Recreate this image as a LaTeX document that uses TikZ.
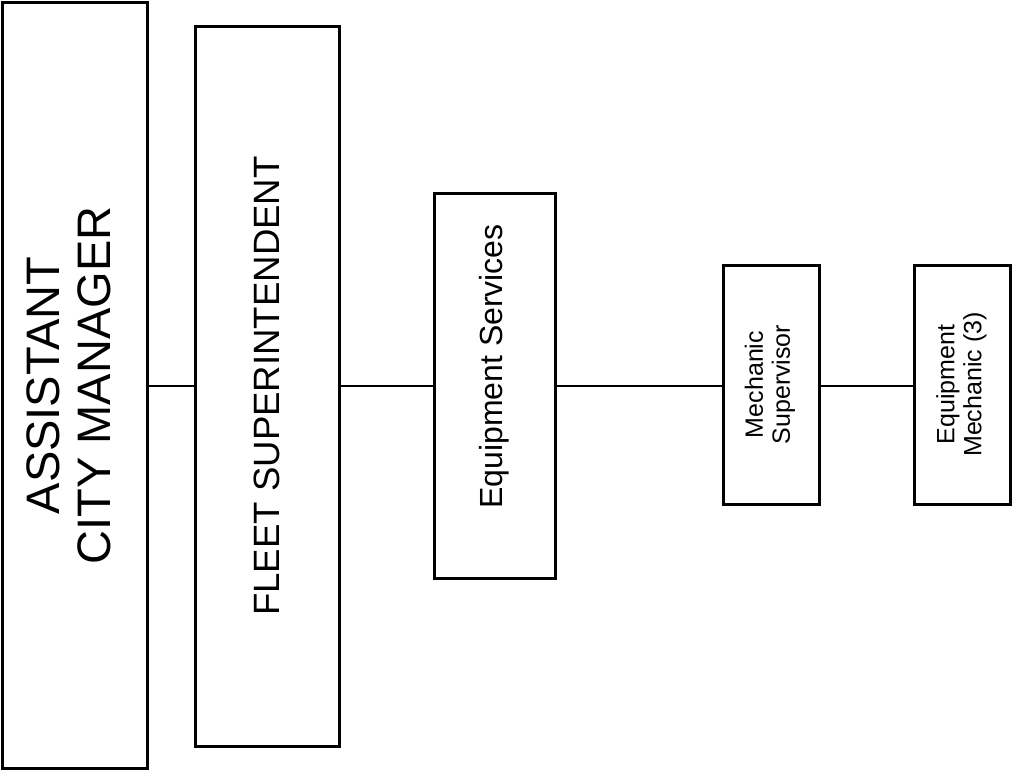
\documentclass[tikz,border=0pt]{standalone}
\usepackage{fontspec}
\setmainfont{Liberation Sans}
\begin{document}
\begin{tikzpicture}[x=1pt,y=-1pt,
  box/.style={draw=black, line width=3pt, fill=white, rectangle, inner sep=0pt, align=center},
  conn/.style={draw=black, line width=1.8pt}]
\useasboundingbox (0,0) rectangle (1012,769);
\node[box, minimum width=145pt, minimum height=766pt] (acm) at (75,385.5)
  {\rotatebox{90}{\fontsize{47}{51}\selectfont\begin{tabular}{@{}c@{}}ASSISTANT\\CITY MANAGER\end{tabular}}};
\node[box, minimum width=144pt, minimum height=720pt] (fs) at (267,386)
  {\rotatebox{90}{\fontsize{36.6}{40}\selectfont FLEET SUPERINTENDENT}};
\node[box, minimum width=121pt, minimum height=385pt] (es) at (494.5,385.5)
  {\rotatebox{90}{\fontsize{32}{36}\selectfont\hspace*{38pt}Equipment Services}};
\node[box, minimum width=96pt, minimum height=239pt] (ms) at (771,384.5)
  {\rotatebox{90}{\fontsize{25}{27}\selectfont\begin{tabular}{@{}c@{}}Mechanic\\Supervisor\end{tabular}}};
\node[box, minimum width=96pt, minimum height=239pt] (em) at (962.5,384.5)
  {\rotatebox{90}{\fontsize{25}{27}\selectfont\begin{tabular}{@{}c@{}}Equipment\\Mechanic (3)\end{tabular}}};
\draw[conn] (acm.east |- 0,386) -- (fs.west |- 0,386);
\draw[conn] (fs.east |- 0,386) -- (es.west |- 0,386);
\draw[conn] (es.east |- 0,386) -- (ms.west |- 0,386);
\draw[conn] (ms.east |- 0,386) -- (em.west |- 0,386);
\end{tikzpicture}
\end{document}
